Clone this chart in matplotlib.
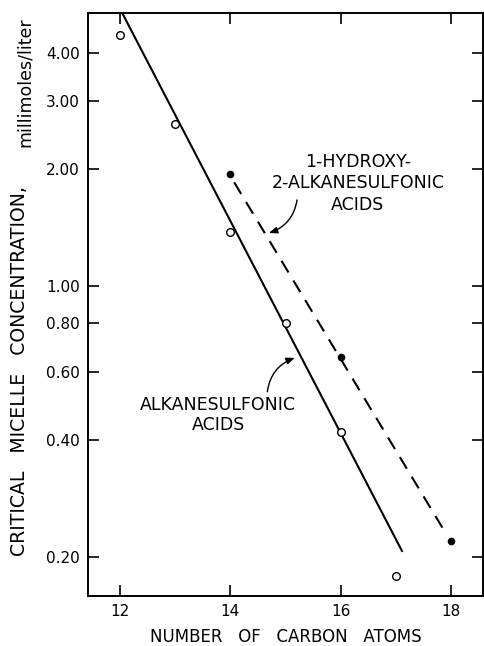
import matplotlib

matplotlib.use("Agg")
import matplotlib.pyplot as plt
from matplotlib.ticker import FixedLocator, FixedFormatter, NullLocator

# ---------------------------------------------------------------------------
# Data
# ---------------------------------------------------------------------------
alkane_carbons = [12, 13, 14, 15, 16, 17]
alkane_cmc = [4.44, 2.62, 1.38, 0.80, 0.42, 0.179]

hydroxy_carbons = [14, 16, 18]
hydroxy_cmc = [1.95, 0.656, 0.22]

# fitted lines drawn through the points (end points)
alkane_fit_x = [12.04, 17.12]
alkane_fit_y = [5.06, 0.206]
hydroxy_fit_x = [14.07, 17.89]
hydroxy_fit_y = [1.85, 0.232]

y_ticks = [0.20, 0.40, 0.60, 0.80, 1.00, 2.00, 3.00, 4.00]
y_tick_labels = ["0.20", "0.40", "0.60", "0.80", "1.00", "2.00", "3.00", "4.00"]
x_ticks = [12, 14, 16, 18]
x_tick_labels = ["12", "14", "16", "18"]

fig = plt.figure(figsize=(4.84, 6.46), dpi=100)
ax = fig.add_axes([88 / 484, 50 / 646, 395 / 484, 583 / 646])

ax.plot(alkane_fit_x, alkane_fit_y, color="black", lw=1.5, solid_capstyle="butt")
ax.plot(hydroxy_fit_x, hydroxy_fit_y, color="black", lw=1.5, dashes=(6.5, 4.5))
ax.plot(alkane_carbons, alkane_cmc, "o", ms=5.5, mfc="white", mec="black", mew=1.0)
ax.plot(hydroxy_carbons, hydroxy_cmc, "o", ms=4.5, mfc="black", mec="black")

ax.set_yscale("log")
ax.set_xlim(11.42, 18.58)
ax.set_ylim(0.1585, 5.06)

ax.yaxis.set_major_locator(FixedLocator(y_ticks))
ax.yaxis.set_major_formatter(FixedFormatter(y_tick_labels))
ax.yaxis.set_minor_locator(NullLocator())
ax.xaxis.set_major_locator(FixedLocator(x_ticks))
ax.xaxis.set_major_formatter(FixedFormatter(x_tick_labels))

ax.tick_params(axis="both", which="major", direction="in", length=8, width=1.2,
               top=True, right=True, labelsize=11, pad=6)
for side in ["left", "right", "top", "bottom"]:
    ax.spines[side].set_linewidth(1.4)

# axis labels
ax.set_xlabel("NUMBER   OF   CARBON   ATOMS", fontsize=12, labelpad=6)
fig.text(20 / 484, 1 - 371 / 646, "CRITICAL   MICELLE   CONCENTRATION,",
         rotation=90, ha="center", va="center", fontsize=13.6)
fig.text(25 / 484, 1 - 82 / 646, "millimoles/liter",
         rotation=90, ha="center", va="center", fontsize=12.5)

# annotation texts
ax.text(13.78, 0.465, "ALKANESULFONIC\nACIDS", ha="center", va="center",
        fontsize=12.5, linespacing=1.15)
ax.text(16.31, 1.84, "1-HYDROXY-\n2-ALKANESULFONIC\nACIDS", ha="center", va="center",
        fontsize=12.5, linespacing=1.25)

# curved pointer arrows
arrow_style = dict(arrowstyle="-|>,head_length=0.5,head_width=0.2", color="black",
                   lw=1.0, shrinkA=0, shrinkB=0, connectionstyle="arc3,rad=-0.3")
ax.annotate("", xy=(15.17, 0.652), xytext=(14.67, 0.533), arrowprops=arrow_style)
ax.annotate("", xy=(14.70, 1.37), xytext=(15.21, 1.667), arrowprops=arrow_style)

fig.savefig("out.png", dpi=100)
